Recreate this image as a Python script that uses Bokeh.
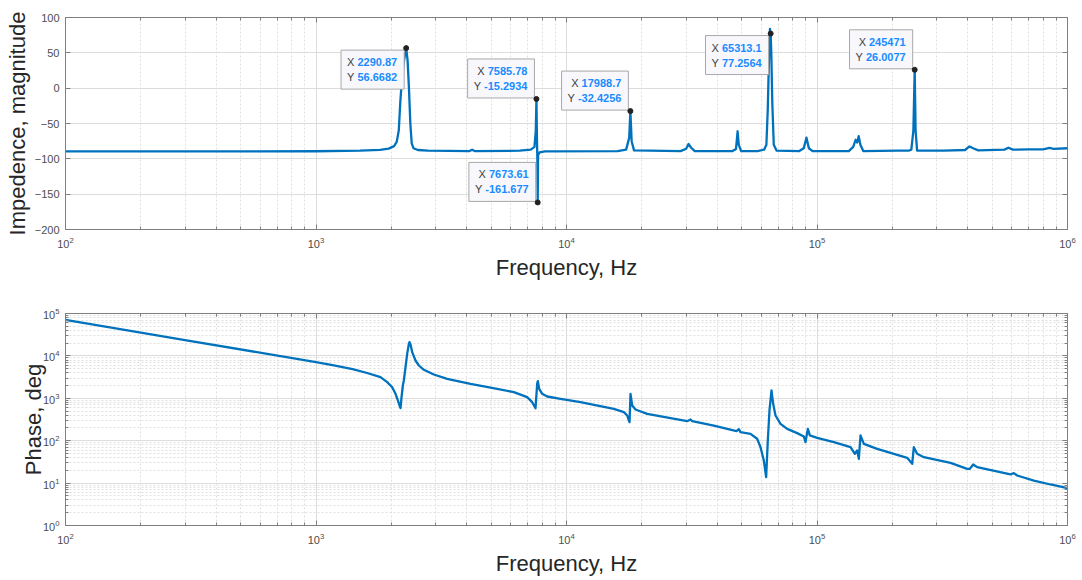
from bokeh.plotting import figure
from bokeh.models import (Range1d, FixedTicker, LogAxis, LinearAxis,
                          CustomJSTickFormatter)
from bokeh.layouts import column
from bokeh.core.properties import value
from bokeh.embed import file_html
from bokeh.resources import INLINE

# ---------------- data ----------------
mag_freq = [100, 300, 1000, 1500, 1800, 1950, 2050, 2100, 2140, 2170, 2200, 2240, 2270,
            2290.87, 2320, 2350, 2380, 2410, 2450, 2550, 2800, 4100, 4200, 4300, 6500,
            7200, 7450, 7540, 7585.78, 7620, 7650, 7673.61, 7700, 7800, 8200, 16000,
            17300, 17800, 17988.7, 18200, 18600, 28500, 30000, 30700, 31400, 32500,
            46000, 47500, 48200, 48700, 49800, 58000, 61500, 62800, 63600, 64300, 64900,
            65313.1, 65700, 66300, 67200, 69000, 85000, 88500, 90800, 92800, 96000,
            134000, 139500, 142600, 144600, 146700, 149000, 153000, 210000, 232000,
            238000, 242500, 245471, 247500, 251000, 320000, 390000, 406000, 420000,
            440000, 560000, 581000, 605000, 700000, 800000, 847000, 880000, 1000000]
mag_val = [-89.5, -89.5, -89.3, -88.5, -87.3, -85.5, -82, -76, -60, -20, 10, 35, 50,
           56.6682, 40, 0, -50, -78, -85, -87.5, -88.5, -89, -87, -89, -88.5,
           -87, -83, -60, -15.2934, -70, -100, -161.677, -95, -91, -89.5, -89,
           -87, -70, -32.4256, -75, -88, -89, -86, -79, -84, -89,
           -89, -86, -61, -80, -89, -89, -87, -80, -30, 40, 84,
           77.2564, 50, -20, -80, -88.5, -89, -85, -70, -85, -89,
           -89, -83, -73, -77, -68, -80, -89, -88.5, -88.5,
           -87, -60, 26.0077, -60, -88.5, -88.5, -87.5, -82.5, -85,
           -88, -87, -84.3, -87, -86.5, -86.5, -84.5, -86, -85]

phase_freq = [100, 300, 1000, 1178, 1400, 1601, 1809, 1924, 1983, 2014, 2077, 2122, 2155,
              2175, 2195, 2222, 2242, 2277, 2312, 2348, 2362, 2384, 2421, 2496, 2574,
              2695, 2954, 3339, 4139, 5287, 6165, 6966, 7295, 7454, 7522, 7638, 7686,
              7780, 7997, 8373, 9464, 11370, 15450, 16940, 17470, 17740, 17850, 18010,
              18290, 18860, 20990, 30320, 31260, 31750, 38740, 47720, 48750, 49500,
              54270, 57680, 59490, 61340, 62660, 63630, 64610, 65810, 66830, 68290,
              71500, 76030, 83340, 88590, 89970, 91920, 93620, 100100, 116800, 136100,
              141600, 144600, 146900, 149200, 153800, 173900, 202700, 229100, 239900,
              243500, 251000, 267100, 341300, 397600, 407500, 420200, 435900, 592300,
              610700, 629500, 733900, 855300, 1000000]
phase_val = [71000, 23700, 7100, 5950, 4850, 3950, 3150, 2402, 2004, 1830, 1275, 888, 677,
             585, 1064, 2004, 2630, 5424, 11190, 19260, 21080, 18570, 12250, 7790, 5937,
             4694, 3642, 2879, 2194, 1672, 1395, 1064, 810, 641, 585, 2194, 2537,
             1672, 1275, 1103, 971, 810, 564, 471, 393, 300, 274, 1275,
             677, 544, 430, 289, 316, 289, 228, 168, 187, 159,
             145, 111, 70.4, 34.1, 13.8, 101, 516, 1528, 740, 393,
             250, 190, 151, 126, 92.3, 190, 133, 117, 92.3, 70.4,
             49.0, 58.7, 37.4, 133, 84.4, 64.3, 49.0, 39.4, 28.5,
             70.4, 49.0, 40.9, 30.1, 21.7, 21.7, 27.5, 23.8, 16.0,
             17.2, 15.1, 11.5, 9.27, 7.6]

tip_x = [2290.87, 7585.78, 7673.61, 17988.7, 65313.1, 245471]
tip_y = [56.6682, -15.2934, -161.677, -32.4256, 77.2564, 26.0077]
tip_x_text = ["2290.87", "7585.78", "7673.61", "17988.7", "65313.1", "245471"]
tip_y_text = ["56.6682", "-15.2934", "-161.677", "-32.4256", "77.2564", "26.0077"]
tip_below = [True, False, False, False, True, False]

x_major = [1e2, 1e3, 1e4, 1e5, 1e6]
x_minor = [m * 10 ** k for k in range(2, 6) for m in range(1, 10)]
mag_ticks = [-200, -150, -100, -50, 0, 50, 100]
ph_major = [1e0, 1e1, 1e2, 1e3, 1e4, 1e5]
ph_minor = [m * 10 ** k for k in range(0, 5) for m in range(1, 10)]

# ---------------- style ----------------
FONT = "Liberation Sans"
LINE = "#0072BD"
FW, FH = 1002, 212
TIP_FS = 11
GRAY = "#7f7f7f"


def tick_style(ax):
    ax.major_tick_line_color = GRAY
    ax.minor_tick_line_color = GRAY
    ax.major_tick_in = 5
    ax.major_tick_out = 0
    ax.minor_tick_in = 3
    ax.minor_tick_out = 0


def style(p, yminor):
    p.outline_line_color = GRAY
    p.outline_line_width = 1
    p.background_fill_color = "white"
    p.border_fill_color = "white"
    for ax in (p.xaxis[0], p.yaxis[0]):
        ax.axis_line_color = GRAY
        tick_style(ax)
        ax.major_label_text_font = FONT
        ax.major_label_text_font_size = "11px"
        ax.major_label_text_color = "#4d4d4d"
        ax.axis_label_text_font = FONT
        ax.axis_label_text_font_size = "22px"
        ax.axis_label_text_font_style = "normal"
        ax.axis_label_text_color = "#262626"
    p.xaxis[0].major_label_standoff = 7
    p.xaxis[0].axis_label_standoff = 4
    p.yaxis[0].major_label_standoff = 6
    p.xgrid.grid_line_color = "#dcdcdc"
    p.xgrid.minor_grid_line_color = "#e0e0e0"
    p.xgrid.minor_grid_line_dash = "2 2"
    p.ygrid.grid_line_color = "#dcdcdc"
    if yminor:
        p.ygrid.minor_grid_line_color = "#e0e0e0"
        p.ygrid.minor_grid_line_dash = "2 2"


def box_axes(p, ylog, yticks, yminor):
    blank = CustomJSTickFormatter(code="return ''")
    top = LogAxis(ticker=FixedTicker(ticks=x_major, minor_ticks=x_minor), formatter=blank)
    if ylog:
        right = LogAxis(ticker=FixedTicker(ticks=yticks, minor_ticks=yminor), formatter=blank)
    else:
        right = LinearAxis(ticker=FixedTicker(ticks=yticks, minor_ticks=yminor), formatter=blank)
    for ax in (top, right):
        tick_style(ax)
        ax.axis_line_color = None
        ax.major_label_standoff = 0
        ax.major_label_text_font_size = "1px"
    p.add_layout(top, "above")
    p.add_layout(right, "right")


# ---------------- top: magnitude ----------------
p1 = figure(x_axis_type="log", x_range=Range1d(1e2, 1e6), y_range=Range1d(-200, 100),
            frame_width=FW, frame_height=FH, min_border_left=65, min_border_right=15,
            min_border_top=17, min_border_bottom=61, output_backend="svg",
            toolbar_location=None)
p1.xaxis.ticker = FixedTicker(ticks=x_major, minor_ticks=x_minor)
p1.yaxis.ticker = FixedTicker(ticks=mag_ticks, minor_ticks=[])
p1.xaxis.axis_label = "Frequency, Hz"
p1.yaxis.axis_label = "Impedence, magnitude"
style(p1, False)
box_axes(p1, False, mag_ticks, [])
p1.yaxis[0].axis_label_standoff = 2
p1.line(mag_freq, mag_val, line_color=LINE, line_width=2.3, line_join="round")


def tw(s, bold):
    w = 0.0
    for ch in s:
        if ch.isdigit():
            w += 0.556
        elif ch == ".":
            w += 0.278
        elif ch == "-":
            w += 0.333
        elif ch == " ":
            w += 0.278
        else:
            w += 0.667
    return w * TIP_FS


px_dec = FW / 4.0
dpp_y = 300.0 / FH
bx, by, bw, bh = [], [], [], []
vx, vy, vxo, vyo, vtxt = [], [], [], [], []
lx, ly, lxo, lyo, ltxt = [], [], [], [], []
for xm, ym, sx, sy, below in zip(tip_x, tip_y, tip_x_text, tip_y_text, tip_below):
    w = max(tw("X ", False) + tw(sx, True), tw("Y ", False) + tw(sy, True)) + 13
    h = 39
    dx = -2 - w / 2.0
    if below:
        dy = -(2 + h / 2.0)
        top = 2
    else:
        dy = 1 + h / 2.0
        top = -(1 + h)
    bx.append(xm * 10 ** (dx / px_dec))
    by.append(ym + dy * dpp_y)
    bw.append(w)
    bh.append(h)
    for lab, s, off in (("X", sx, 12), ("Y", sy, 27)):
        vx.append(xm); vy.append(ym); vxo.append(-9); vyo.append(top + off); vtxt.append(s)
        lx.append(xm); ly.append(ym); lxo.append(-9 - tw(s, True) - 3)
        lyo.append(top + off); ltxt.append(lab)

p1.rect(x=bx, y=by, width=bw, height=bh, width_units="screen", height_units="screen",
        fill_color="#f8f8fc", line_color="#a8a8a8", line_width=1)
p1.text(x=vx, y=vy, text=vtxt, x_offset=vxo, y_offset=vyo, text_align="right",
        text_baseline="middle", text_font=value(FONT), text_font_style="bold",
        text_font_size="11px", text_color="#1a8cff")
p1.text(x=lx, y=ly, text=ltxt, x_offset=lxo, y_offset=lyo, text_align="right",
        text_baseline="middle", text_font=value(FONT), text_font_size="11px",
        text_color="#404040")
p1.scatter(tip_x, tip_y, size=5, fill_color="#222222", line_color="#222222")

# ---------------- bottom: phase ----------------
p2 = figure(x_axis_type="log", y_axis_type="log", x_range=Range1d(1e2, 1e6),
            y_range=Range1d(1, 1e5), frame_width=FW, frame_height=FH,
            min_border_left=65, min_border_right=15, min_border_top=23,
            min_border_bottom=55, output_backend="svg", toolbar_location=None)
p2.xaxis.ticker = FixedTicker(ticks=x_major, minor_ticks=x_minor)
p2.yaxis.ticker = FixedTicker(ticks=ph_major, minor_ticks=ph_minor)
p2.xaxis.axis_label = "Frequency, Hz"
p2.yaxis.axis_label = "Phase, deg"
style(p2, True)
box_axes(p2, True, ph_major, ph_minor)
p2.yaxis[0].axis_label_standoff = -6
p2.line(phase_freq, phase_val, line_color=LINE, line_width=2.3, line_join="round")

layout = column(p1, p2, spacing=0)
open("out.html", "w").write(file_html(layout, INLINE))
